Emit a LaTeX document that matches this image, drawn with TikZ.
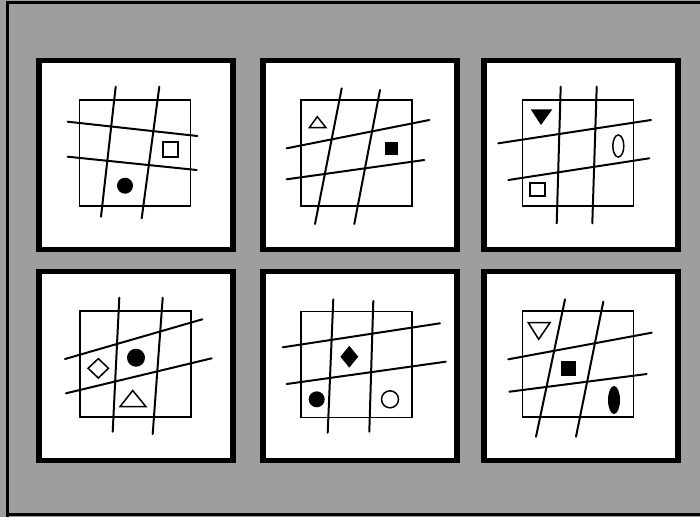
\documentclass[tikz,border=0pt]{standalone}
\usepackage{tikz}
\usetikzlibrary{shapes.geometric}

\begin{document}
\begin{tikzpicture}[
  x=1pt, y=-1pt,
  panel/.style={draw, line width=5.5pt, fill=white, minimum width=194pt, minimum height=189pt, inner sep=0pt},
  cell/.style={draw, line width=1.9pt, minimum width=111pt, minimum height=106pt, inner sep=0pt},
  cut/.style={line width=2pt, line cap=round},
  hollow/.style={draw, line width=1.5pt, inner sep=0pt},
  inked/.style={fill=black, inner sep=0pt}
]
% scanned background and its edge
\fill[black!38] (0,0) rectangle (700,517);
\useasboundingbox (0,0) rectangle (700,517);
\draw[line width=3pt] (7,517) -- (7,2) -- (700,2);
\draw[line width=3pt] (7,514.5) -- (700,514.5);

% top left
\node[panel] (p1) at (136,155) {};
\node[cell] (c1) at (135,152.7) {};
\draw[cut] (115.7,86.7) -- (101,216.7);
\draw[cut] (159.3,86.7) -- (141.7,218.3);
\draw[cut] (67.7,121.7) -- (197.3,136);
\draw[cut] (67.7,156.7) -- (196.7,170);
\node[hollow, minimum size=15pt] (box1) at (170.5,149.5) {};
\node[inked, circle, minimum size=16pt] (dot1) at (125,185.7) {};

% top middle
\node[panel] (p2) at (360,155) {};
\node[cell] (c2) at (356.3,153) {};
\draw[cut] (341.7,88.3) -- (315,224);
\draw[cut] (380,90) -- (354.3,224);
\draw[cut] (286.7,148.3) -- (429.3,120);
\draw[cut] (286.7,179.3) -- (424.3,160);
\draw[hollow] (317.3,116.7) -- (309.3,127.7) -- (326,127.7) -- cycle;
\node[inked, minimum size=13pt] (blk2) at (391,148.7) {};

% top right
\node[panel] (p3) at (581,155) {};
\node[cell] (c3) at (578,152.7) {};
\draw[cut] (560.7,86.7) -- (556.7,223.3);
\draw[cut] (596.7,86.7) -- (592.3,223.3);
\draw[cut] (498.3,143.3) -- (651,120);
\draw[cut] (508.3,180) -- (649.3,158.3);
\fill (530.7,109.3) -- (552.3,109.3) -- (541,125) -- cycle;
\node[hollow, ellipse, minimum width=11pt, minimum height=22pt] (egg3) at (618.3,146) {};
\node[hollow, minimum width=15pt, minimum height=13pt] (box3) at (537.3,189.7) {};

% bottom left
\node[panel] (p4) at (136,366) {};
\node[cell] (c4) at (135.3,363.7) {};
\draw[cut] (119.3,297.7) -- (112.7,431.7);
\draw[cut] (162.7,297.7) -- (152.7,434);
\draw[cut] (65,359) -- (202.3,319.3);
\draw[cut] (66,393.3) -- (211.7,358.3);
\node[hollow, diamond, minimum width=21pt, minimum height=20pt] (gem4) at (98.3,368.3) {};
\node[inked, circle, minimum size=18pt] (dot4) at (136,357.7) {};
\draw[hollow] (132.7,390.5) -- (120,406.7) -- (146,406.7) -- cycle;

% bottom middle
\node[panel] (p5) at (360,366) {};
\node[cell] (c5) at (356.7,364.5) {};
\draw[cut] (333.3,299.3) -- (327.7,432.7);
\draw[cut] (373.3,301) -- (369.3,431.7);
\draw[cut] (282.7,347.3) -- (440,323.3);
\draw[cut] (286.7,384) -- (445.7,361.7);
\node[inked, diamond, minimum width=18pt, minimum height=22pt] (gem5) at (349.3,356.7) {};
\node[inked, circle, minimum size=16pt] (dot5) at (316.7,399.3) {};
\node[hollow, circle, minimum size=17pt] (ring5) at (390,399.3) {};

% bottom right
\node[panel] (p6) at (581,366) {};
\node[cell] (c6) at (578,364.2) {};
\draw[cut] (565,299.3) -- (536,436.7);
\draw[cut] (603.3,301.7) -- (576,436.7);
\draw[cut] (508.3,359.3) -- (651.7,332.7);
\draw[cut] (509.3,391.7) -- (646.7,374);
\draw[hollow] (528.3,322.7) -- (550,322.7) -- (538.7,339.3) -- cycle;
\node[inked, minimum size=15pt] (blk6) at (568.8,368) {};
\node[inked, ellipse, minimum width=12pt, minimum height=28pt] (egg6) at (614,400) {};
\end{tikzpicture}
\end{document}
